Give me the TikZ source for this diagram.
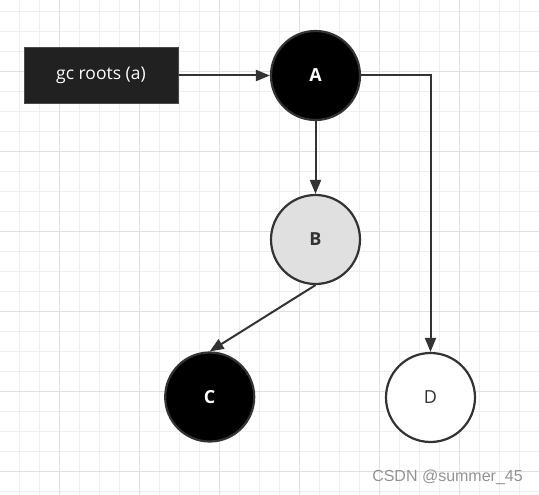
\documentclass[tikz,border=0pt]{standalone}
\usepackage{fontspec}
\setmainfont{Open Sans}
\newfontfamily\wmfont{Liberation Sans}
\usetikzlibrary{arrows.meta}
\definecolor{gridminor}{HTML}{EFEFEF}
\definecolor{gridmajor}{HTML}{E0E0E0}
\definecolor{edgecol}{HTML}{333333}
\definecolor{boxfill}{HTML}{212121}
\definecolor{boxline}{HTML}{4A4A4A}
\definecolor{bfill}{HTML}{E0E0E0}
\tikzset{
  objnode/.style={circle, draw=edgecol, line width=2.2pt, minimum size=89pt, inner sep=0pt, font=\fontsize{18}{20}\selectfont\bfseries},
  rootbox/.style={rectangle, draw=boxline, fill=boxfill, line width=1pt, minimum width=154pt, minimum height=56pt, inner sep=0pt, text=white, font=\fontsize{17.5}{20}\selectfont},
  ref/.style={draw=edgecol, line width=2pt, -{Triangle[length=14pt,width=11pt]}},
}
\begin{document}
\begin{tikzpicture}[x=1pt,y=-1pt]
\useasboundingbox (0,0) rectangle (539,495);
\fill[white] (0,0) rectangle (539,495);
% grid
\foreach \k in {0,...,25} {
  \draw[gridminor, line width=1pt] ({19.3+20*\k},0) -- ({19.3+20*\k},495);
}
\foreach \k in {0,...,24} {
  \draw[gridminor, line width=1pt] (0,{11.7+20*\k}) -- (539,{11.7+20*\k});
}
\foreach \k in {0,...,6} {
  \draw[gridmajor, line width=1pt] ({59.3+80*\k},0) -- ({59.3+80*\k},495);
}
\foreach \k in {0,...,5} {
  \draw[gridmajor, line width=1pt] (0,{71.7+80*\k}) -- (539,{71.7+80*\k});
}
% nodes
\node[rootbox] (root) at (101,75.5) {gc roots (a)};
\node[objnode, fill=black, text=white] (A) at (315.5,75.5) {A};
\node[objnode, fill=bfill, text=edgecol] (B) at (315.5,239.5) {B};
\node[objnode, fill=black, text=white] (C) at (209.7,397) {C};
\node[objnode, fill=white, text=edgecol, font=\fontsize{18}{20}\selectfont] (D) at (430.5,397.5) {D};
% edges
\draw[ref] (root.east) -- (A.west);
\draw[ref] (A.south) -- (B.north);
\draw[ref] (A.east) -| (D.north);
\draw[ref] (B.south) -- (C.north);
% watermark
\node[text=gray!85, font=\wmfont\fontsize{16}{18}\selectfont, inner sep=0pt] (wm) at (447.5,477) {CSDN @summer\_45};
\end{tikzpicture}
\end{document}
